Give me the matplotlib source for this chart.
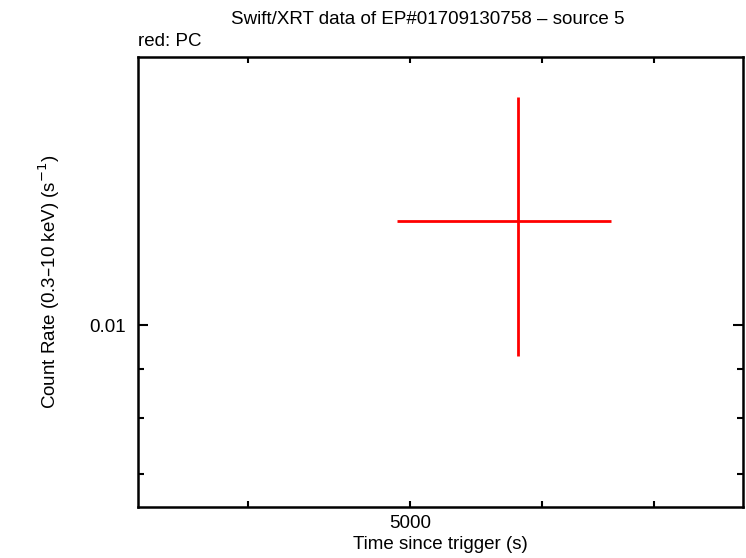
import matplotlib
matplotlib.use("Agg")
from matplotlib import pyplot as plt
from matplotlib.ticker import FixedLocator, NullFormatter

plt.rcParams['font.family'] = ['Liberation Sans', 'DejaVu Sans']

# PC data point (time since trigger, count rate) with errors
t = [5800]
t_lo = [4910]
t_hi = [6595]
rate = [0.01286]
rate_lo = [0.00928]
rate_hi = [0.01732]

xticks = [4000, 5000, 6000, 7000]
xticklabels = ['', '5000', '', '']
yticks = [0.01]
yticklabels = ['0.01']
yminor = [0.007, 0.008, 0.009]

xerr = [[t[i] - t_lo[i] for i in range(len(t))], [t_hi[i] - t[i] for i in range(len(t))]]
yerr = [[rate[i] - rate_lo[i] for i in range(len(t))], [rate_hi[i] - rate[i] for i in range(len(t))]]

fs = 13.5

fig = plt.figure(figsize=(7.46, 5.58), dpi=100)
ax = fig.add_axes([0.185, 0.0914, 0.811, 0.8066])

ax.errorbar(t, rate, xerr=xerr, yerr=yerr, fmt='none', ecolor='#ff0000', elinewidth=2, capsize=0)

ax.set_xscale('log')
ax.set_yscale('log')
ax.set_xlim(3437, 7909)
ax.set_ylim(0.00646, 0.01906)

ax.xaxis.set_major_locator(FixedLocator(xticks))
ax.set_xticklabels(xticklabels)
ax.xaxis.set_minor_locator(FixedLocator([]))
ax.yaxis.set_major_locator(FixedLocator(yticks))
ax.set_yticklabels(yticklabels)
ax.yaxis.set_minor_locator(FixedLocator(yminor))
ax.yaxis.set_minor_formatter(NullFormatter())

ax.tick_params(which='both', direction='in', top=True, right=True, width=1.5, labelsize=fs)
ax.tick_params(axis='x', which='major', length=4, pad=6)
ax.tick_params(axis='y', which='major', length=7, pad=9)
ax.tick_params(axis='y', which='minor', length=4)
for s in ax.spines.values():
    s.set_linewidth(1.8)

ax.set_xlabel('Time since trigger (s)', fontsize=fs, labelpad=3)
ax.set_ylabel('Count Rate (0.3\u201310 keV) (s$^{-1}$)', fontsize=fs, labelpad=19)
fig.text(0.574, 0.965, 'Swift/XRT data of EP#01709130758 \u2013 source 5', ha='center', va='center', fontsize=fs)
fig.text(0.185, 0.925, 'red: PC', ha='left', va='center', fontsize=fs)

fig.savefig('out.png', dpi=100)
